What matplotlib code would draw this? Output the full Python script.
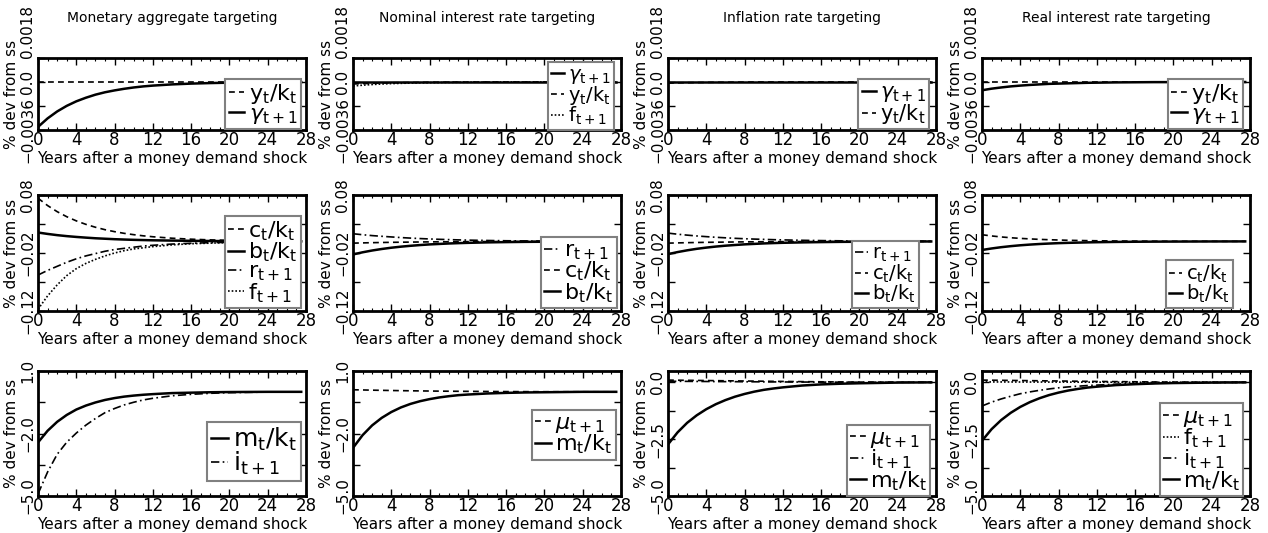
import numpy as np
import matplotlib
matplotlib.use('Agg')
import matplotlib.pyplot as plt
from matplotlib.ticker import MultipleLocator

plt.rcParams['font.family'] = 'DejaVu Sans'
plt.rcParams['mathtext.fontset'] = 'dejavusans'

W, H = 1268, 533

years = [0, 1, 2, 3, 4, 5, 6, 7, 8, 9, 10, 11, 12, 14, 16, 18, 20, 24, 27.5]
zeros = [0.0] * len(years)

titles = ['Monetary aggregate targeting', 'Nominal interest rate targeting',
          'Inflation rate targeting', 'Real interest rate targeting']
xlab = 'Years after a money demand shock'
ylab = '% dev from ss'

# row 1: y_t/k_t and gamma_{t+1}
gam_mat = [-0.00337, -0.00273, -0.00221, -0.00179, -0.00145, -0.00118, -0.00095, -0.00077, -0.00063, -0.00051,
           -0.00041, -0.00033, -0.00027, -0.00018, -0.00012, -0.00008, -0.00005, -0.00002, -0.00001]
yk_mat = zeros
gam_nom = zeros
yk_nom = [-0.00015, -0.00012, -0.0001, -0.00008, -0.00006, -0.00005, -0.00004, -0.00003, -0.00002, -0.00002,
          -0.00001, -0.00001, -0.00001, 0, 0, 0, 0, 0, 0]
f_nom = [-0.0003, -0.00024, -0.00019, -0.00015, -0.00012, -0.0001, -0.00008, -0.00006, -0.00005, -0.00004,
         -0.00003, -0.00002, -0.00002, -0.00001, 0, 0, 0, 0, 0]
gam_inf = zeros
yk_inf = [-0.00008, -0.00006, -0.00005, -0.00004, -0.00003, -0.00002, -0.00002, -0.00001, -0.00001, 0,
          0, 0, 0, 0, 0, 0, 0, 0, 0]
yk_real = zeros
gam_real = [-0.00062, -0.0005, -0.00041, -0.00033, -0.00027, -0.00022, -0.00018, -0.00014, -0.00012, -0.0001,
            -0.00008, -0.00006, -0.00005, -0.00003, -0.00002, -0.00001, -0.00001, 0, 0]

# row 2: c_t/k_t, b_t/k_t, r_{t+1}, f_{t+1}
ck_mat = [0.0745, 0.0618, 0.0513, 0.0426, 0.0354, 0.0294, 0.0244, 0.0202, 0.0168, 0.0139,
          0.0116, 0.0096, 0.008, 0.0055, 0.0038, 0.0026, 0.0018, 0.0008, 0.0004]
bk_mat = [0.0153, 0.0129, 0.0108, 0.0091, 0.0077, 0.0065, 0.0054, 0.0046, 0.0038, 0.0032,
          0.0027, 0.0023, 0.0019, 0.0014, 0.001, 0.0007, 0.0005, 0.0002, 0.0001]
r_mat = [-0.058, -0.05, -0.043, -0.036, -0.03, -0.025, -0.021, -0.017, -0.014, -0.012,
         -0.01, -0.008, -0.0067, -0.0046, -0.0032, -0.0022, -0.0015, -0.0007, -0.0003]
f_mat = [-0.117, -0.094, -0.075, -0.059, -0.047, -0.038, -0.031, -0.025, -0.02, -0.016,
         -0.013, -0.011, -0.009, -0.006, -0.004, -0.003, -0.002, -0.001, -0.0005]
r_nom = [0.0132, 0.0115, 0.01, 0.0088, 0.0077, 0.0066, 0.0057, 0.0049, 0.0042, 0.0036,
         0.0031, 0.0026, 0.0022, 0.0016, 0.0011, 0.0008, 0.0006, 0.0003, 0.0001]
ck_nom = [-0.003, -0.0026, -0.0022, -0.0019, -0.0016, -0.0014, -0.0012, -0.001, -0.0008, -0.0007,
          -0.0006, -0.0005, -0.0004, -0.0003, -0.0002, -0.0001, 0, 0, 0]
bk_nom = [-0.0225, -0.0188, -0.0157, -0.0131, -0.0109, -0.0091, -0.0076, -0.0063, -0.0052, -0.0044,
          -0.0036, -0.003, -0.0025, -0.0017, -0.0012, -0.0008, -0.0006, -0.0003, -0.0001]
r_inf = [0.0143, 0.0124, 0.0108, 0.0094, 0.0082, 0.0071, 0.0062, 0.0053, 0.0046, 0.004,
         0.0035, 0.003, 0.0026, 0.0019, 0.0014, 0.001, 0.0008, 0.0004, 0.0002]
ck_inf = [-0.003, -0.0026, -0.0022, -0.0019, -0.0016, -0.0014, -0.0012, -0.001, -0.0008, -0.0007,
          -0.0006, -0.0005, -0.0004, -0.0003, -0.0002, -0.0001, 0, 0, 0]
bk_inf = [-0.022, -0.0184, -0.0154, -0.0128, -0.0107, -0.0089, -0.0074, -0.0062, -0.0051, -0.0043,
          -0.0035, -0.0029, -0.0024, -0.0017, -0.0012, -0.0008, -0.0006, -0.0003, -0.0001]
ck_real = [0.0115, 0.0094, 0.0077, 0.0063, 0.0052, 0.0043, 0.0035, 0.0029, 0.0024, 0.0019,
           0.0016, 0.0013, 0.0011, 0.0007, 0.0005, 0.0003, 0.0002, 0.0001, 0]
bk_real = [-0.0148, -0.0122, -0.01, -0.0082, -0.0067, -0.0055, -0.0045, -0.0037, -0.003, -0.0025,
           -0.0021, -0.0017, -0.0014, -0.0009, -0.0006, -0.0004, -0.0003, -0.0001, 0]

# row 3: m_t/k_t, i_{t+1}, mu_{t+1}, f_{t+1}
mk_mat = [-2.43, -1.87, -1.44, -1.11, -0.85, -0.66, -0.51, -0.39, -0.3, -0.23,
          -0.18, -0.14, -0.11, -0.06, -0.04, -0.02, -0.01, 0, 0]
i_mat = [-4.9, -3.85, -3.0, -2.42, -1.98, -1.6, -1.28, -1.0, -0.8, -0.63,
         -0.5, -0.39, -0.31, -0.19, -0.12, -0.07, -0.04, -0.01, 0]
mu_nom = [0.1, 0.09, 0.08, 0.072, 0.064, 0.056, 0.05, 0.044, 0.039, 0.034,
          0.03, 0.026, 0.023, 0.017, 0.012, 0.009, 0.006, 0.003, 0.001]
mk_nom = [-2.69, -2.08, -1.61, -1.25, -0.97, -0.75, -0.58, -0.45, -0.35, -0.27,
          -0.21, -0.16, -0.13, -0.08, -0.05, -0.03, -0.02, 0, 0]
mu_inf = [0.1, 0.095, 0.09, 0.085, 0.08, 0.075, 0.07, 0.065, 0.06, 0.055,
          0.05, 0.045, 0.04, 0.032, 0.025, 0.018, 0.012, 0.005, 0.002]
i_inf = [0.05, 0.047, 0.044, 0.041, 0.038, 0.035, 0.032, 0.03, 0.027, 0.025,
         0.022, 0.02, 0.018, 0.014, 0.011, 0.008, 0.006, 0.003, 0.001]
mk_inf = [-2.73, -2.2, -1.78, -1.45, -1.18, -0.96, -0.78, -0.63, -0.51, -0.41,
          -0.33, -0.27, -0.22, -0.14, -0.09, -0.06, -0.04, -0.01, 0]
mu_real = [0.1, 0.095, 0.09, 0.085, 0.08, 0.075, 0.07, 0.065, 0.06, 0.055,
           0.05, 0.045, 0.04, 0.032, 0.025, 0.018, 0.012, 0.005, 0.002]
f_real = [0.02, 0.019, 0.018, 0.017, 0.016, 0.015, 0.014, 0.013, 0.012, 0.011,
          0.01, 0.009, 0.008, 0.006, 0.005, 0.004, 0.003, 0.001, 0]
i_real = [-1.04, -0.87, -0.73, -0.61, -0.5, -0.42, -0.35, -0.29, -0.24, -0.2,
          -0.17, -0.14, -0.12, -0.08, -0.05, -0.04, -0.02, -0.01, 0]
mk_real = [-2.57, -2.06, -1.66, -1.34, -1.08, -0.87, -0.7, -0.56, -0.45, -0.36,
           -0.29, -0.23, -0.19, -0.12, -0.08, -0.05, -0.03, -0.01, 0]

L_yk = r'$\mathrm{y_t/k_t}$'
L_gam = r'$\gamma_{\mathrm{t+1}}$'
L_f = r'$\mathrm{f_{t+1}}$'
L_ck = r'$\mathrm{c_t/k_t}$'
L_bk = r'$\mathrm{b_t/k_t}$'
L_r = r'$\mathrm{r_{t+1}}$'
L_mk = r'$\mathrm{m_t/k_t}$'
L_i = r'$\mathrm{i_{t+1}}$'
L_mu = r'$\mu_{\mathrm{t+1}}$'

styles = {'solid': dict(ls='-', lw=1.8),
          'dash': dict(ls=(0, (3.5, 2.5)), lw=1.2),
          'dot': dict(ls=(0, (1, 1.2)), lw=1.2),
          'dashdot': dict(ls=(0, (5, 2, 1, 2)), lw=1.2)}

panels = [
    [[(yk_mat, 'dash', L_yk), (gam_mat, 'solid', L_gam)],
     [(gam_nom, 'solid', L_gam), (yk_nom, 'dash', L_yk), (f_nom, 'dot', L_f)],
     [(gam_inf, 'solid', L_gam), (yk_inf, 'dash', L_yk)],
     [(yk_real, 'dash', L_yk), (gam_real, 'solid', L_gam)]],
    [[(ck_mat, 'dash', L_ck), (bk_mat, 'solid', L_bk), (r_mat, 'dashdot', L_r), (f_mat, 'dot', L_f)],
     [(r_nom, 'dashdot', L_r), (ck_nom, 'dash', L_ck), (bk_nom, 'solid', L_bk)],
     [(r_inf, 'dashdot', L_r), (ck_inf, 'dash', L_ck), (bk_inf, 'solid', L_bk)],
     [(ck_real, 'dash', L_ck), (bk_real, 'solid', L_bk)]],
    [[(mk_mat, 'solid', L_mk), (i_mat, 'dashdot', L_i)],
     [(mu_nom, 'dash', L_mu), (mk_nom, 'solid', L_mk)],
     [(mu_inf, 'dash', L_mu), (i_inf, 'dashdot', L_i), (mk_inf, 'solid', L_mk)],
     [(mu_real, 'dash', L_mu), (f_real, 'dot', L_f), (i_real, 'dashdot', L_i), (mk_real, 'solid', L_mk)]],
]

M = '\u2212'
# y axis setup per panel: limits, major ticks, tick labels
row1_y = ((-0.0036, 0.0018), [-0.0036, -0.0018, 0.0, 0.0018], [M + '0.0036', '', '0.0', '0.0018'])
row2_y = ((-0.12, 0.08), [-0.12, -0.07, -0.02, 0.03, 0.08], [M + '0.12', '', M + '0.02', '', '0.08'])
row3a_y = ((-5.0, 1.0), [-5.0, -3.5, -2.0, -0.5, 1.0], [M + '5.0', '', M + '2.0', '', '1.0'])
row3b_y = ((-5.0, 0.5), [-5.0, -3.75, -2.5, -1.25, 0.0], [M + '5.0', '', M + '2.5', '', '0.0'])
yaxes = [[row1_y] * 4, [row2_y] * 4, [row3a_y, row3a_y, row3b_y, row3b_y]]

# legend anchors (lower right corner, axes fraction)
leg_anchor = [[(0.98, 0.01), (0.975, 0.0), (0.975, 0.01), (0.975, 0.01)],
              [(0.98, 0.025), (0.985, 0.025), (0.935, 0.025), (0.935, 0.025)],
              [(0.98, 0.12), (0.98, 0.29), (0.978, 0.0), (0.975, 0.0)]]
leg_size = [[16, 14, 15, 16], [16, 16, 14, 14], [18, 16, 16, 16]]

col_left = [38, 353, 668, 982]
col_w = 268
row_top = [58, 195, 371]
row_bot = [130, 311, 496]

fig = plt.figure(figsize=(W / 100, H / 100), dpi=100)

for r in range(3):
    for c in range(4):
        l, t, b = col_left[c], row_top[r], row_bot[r]
        ax = fig.add_axes([l / W, 1 - b / H, col_w / W, (b - t) / H])
        handles = []
        for vals, st, lab in panels[r][c]:
            h, = ax.plot(years, vals, color='black', label=lab, **styles[st])
            handles.append(h)
        lim, ticks, labs = yaxes[r][c]
        ax.set_xlim(0, 28)
        ax.set_ylim(*lim)
        ax.set_yticks(ticks)
        tl = ax.set_yticklabels(labs, rotation=90, va='center', fontsize=11)
        if r == 0:
            tl[-1].set_va('bottom')
        ax.xaxis.set_major_locator(MultipleLocator(4))
        ax.xaxis.set_minor_locator(MultipleLocator(1))
        ax.tick_params(axis='x', labelsize=12, pad=1)
        ax.tick_params(which='both', direction='in', top=True, right=True)
        ax.tick_params(which='major', length=5, width=1)
        ax.tick_params(which='minor', length=2.5, width=0.8)
        ax.tick_params(axis='y', pad=2)
        for sp in ax.spines.values():
            sp.set_linewidth(2)
        ax.set_xlabel(xlab, fontsize=11, labelpad=1)
        ax.set_ylabel(ylab, fontsize=11, labelpad=1)
        if r == 0:
            fig.text((l + col_w / 2) / W, 1 - 18 / H, titles[c], fontsize=10,
                     ha='center', va='center')
        leg = ax.legend(handles=handles, loc='lower right', bbox_to_anchor=leg_anchor[r][c],
                        fontsize=leg_size[r][c], handlelength=0.7, handletextpad=0.2,
                        labelspacing=-0.1, borderpad=0.15, borderaxespad=0,
                        fancybox=False, framealpha=1, edgecolor='#808080')
        leg.get_frame().set_linewidth(1.5)

fig.savefig('out.png', dpi=100)
